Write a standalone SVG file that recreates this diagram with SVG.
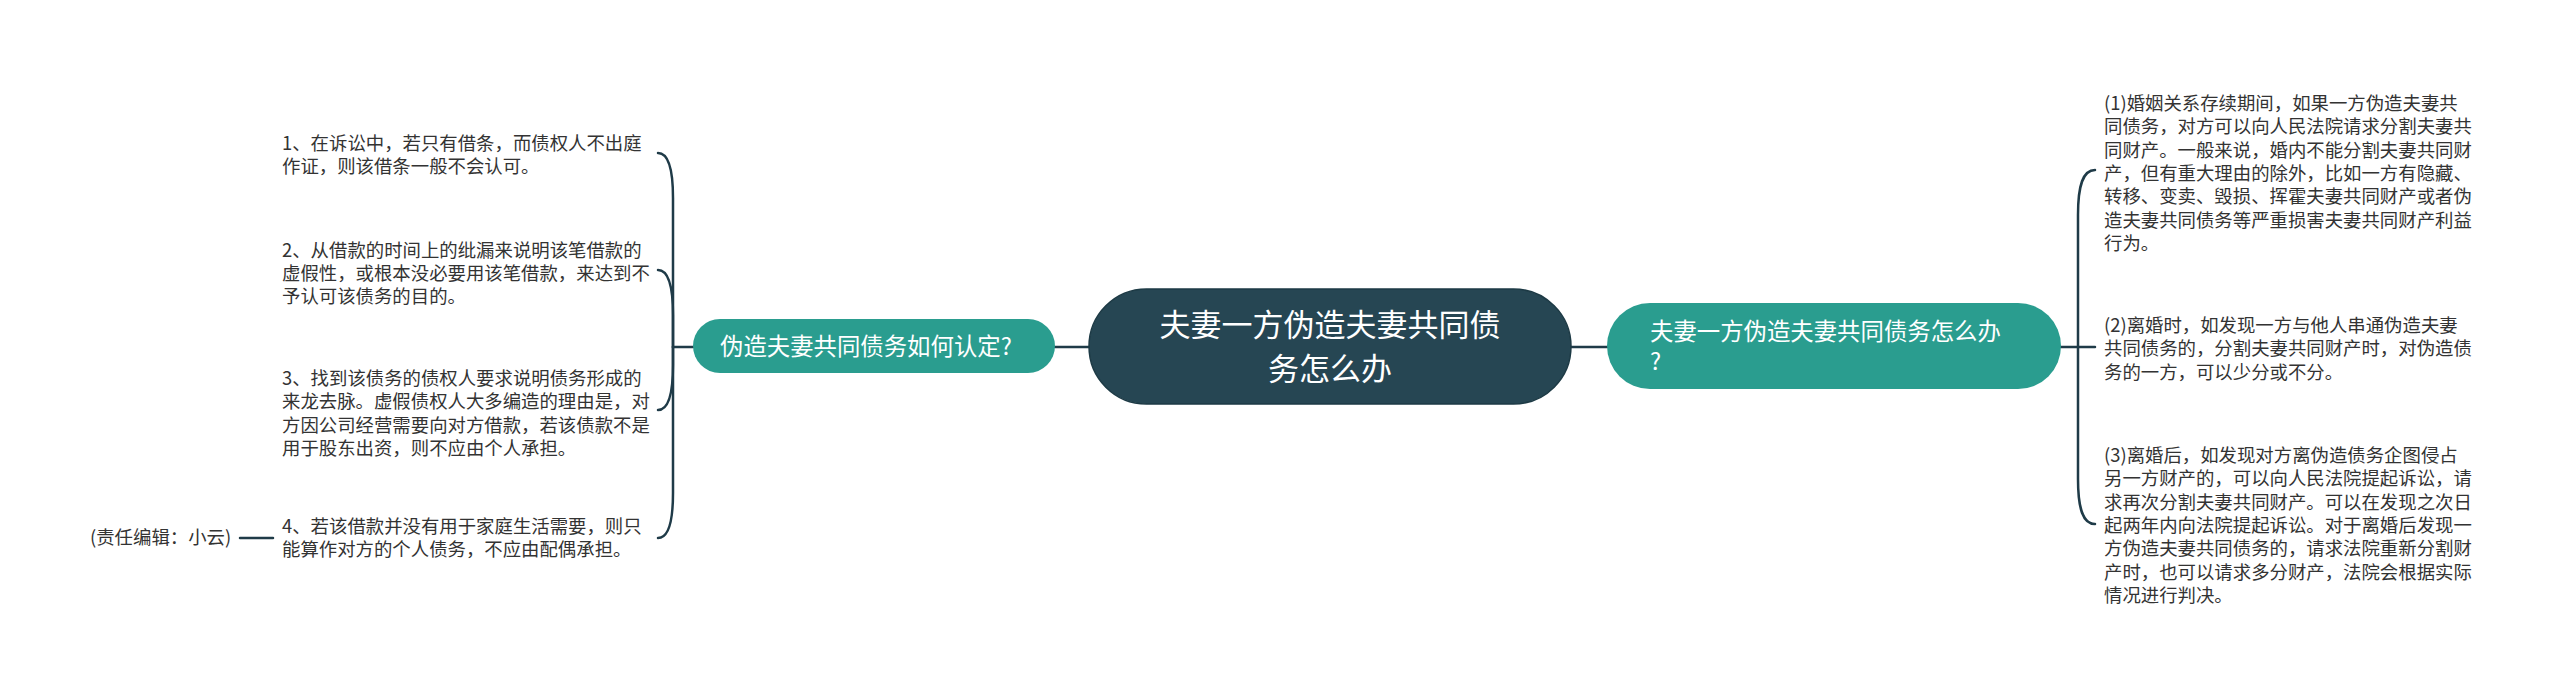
<svg xmlns="http://www.w3.org/2000/svg" width="2560" height="693" viewBox="0 0 2560 693">
<defs>
<style>
.conn{fill:none;stroke:#1f3b48;stroke-width:2.5;stroke-linecap:round}
.t{font-family:"Noto Sans CJK SC","Noto Sans",sans-serif;font-size:18.4px;fill:#333333}
.sub{fill:#2a9d8f}
.subt{font-family:"Noto Sans CJK SC","Noto Sans",sans-serif;font-size:23.4px;fill:#ffffff}
.root{fill:#264653;stroke:#1d3a45;stroke-width:1.5}
.roott{font-family:"Noto Sans CJK SC","Noto Sans",sans-serif;font-size:31px;fill:#ffffff;text-anchor:middle}
</style>
</defs>
<rect width="2560" height="693" fill="#ffffff"/>
<g id="connectors">
<path class="conn" d="M1089 347 L1055 347"/>
<path class="conn" d="M1571 347 L1607 347"/>
<path class="conn" d="M693 347 L673 347"/>
<path class="conn" d="M673 347 L673 198 C673 168 668 153 658 153"/>
<path class="conn" d="M673 347 L673 315 C673 285 668 270 658 270"/>
<path class="conn" d="M673 347 L673 365 C673 395 668 410 658 410"/>
<path class="conn" d="M673 347 L673 493 C673 523 668 538 658 538"/>
<path class="conn" d="M273 538 L240 538"/>
<path class="conn" d="M2061 347 L2095 347"/>
<path class="conn" d="M2078 347 L2078 215 C2078 185 2083 170 2095 170"/>
<path class="conn" d="M2078 347 L2078 479 C2078 509 2083 524 2095 524"/>
</g>
<g id="root">
<rect class="root" x="1089" y="289" width="482" height="115" rx="57.5"/>
<text class="roott" x="1330" y="336">夫妻一方伪造夫妻共同债</text>
<text class="roott" x="1330" y="380">务怎么办</text>
</g>
<g id="left-topic">
<rect class="sub" x="693" y="319" width="362" height="54" rx="27"/>
<text class="subt" x="720" y="355">伪造夫妻共同债务如何认定?</text>
</g>
<g id="right-topic">
<rect class="sub" x="1607" y="303" width="454" height="86" rx="43"/>
<text class="subt" x="1650" y="340">夫妻一方伪造夫妻共同债务怎么办</text>
<text class="subt" x="1650" y="370">?</text>
</g>
<g id="left-1">
<text class="t" x="282" y="150">1、在诉讼中，若只有借条，而债权人不出庭</text>
<text class="t" x="282" y="173">作证，则该借条一般不会认可。</text>
</g>
<g id="left-2">
<text class="t" x="282" y="257">2、从借款的时间上的纰漏来说明该笔借款的</text>
<text class="t" x="282" y="280">虚假性，或根本没必要用该笔借款，来达到不</text>
<text class="t" x="282" y="303">予认可该债务的目的。</text>
</g>
<g id="left-3">
<text class="t" x="282" y="385">3、找到该债务的债权人要求说明债务形成的</text>
<text class="t" x="282" y="408">来龙去脉。虚假债权人大多编造的理由是，对</text>
<text class="t" x="282" y="432">方因公司经营需要向对方借款，若该债款不是</text>
<text class="t" x="282" y="455">用于股东出资，则不应由个人承担。</text>
</g>
<g id="left-4">
<text class="t" x="282" y="533">4、若该借款并没有用于家庭生活需要，则只</text>
<text class="t" x="282" y="556">能算作对方的个人债务，不应由配偶承担。</text>
</g>
<g id="editor-note">
<text class="t" x="90" y="544">(责任编辑：小云)</text>
</g>
<g id="right-1">
<text class="t" x="2104" y="110">(1)婚姻关系存续期间，如果一方伪造夫妻共</text>
<text class="t" x="2104" y="133.3">同债务，对方可以向人民法院请求分割夫妻共</text>
<text class="t" x="2104" y="156.7">同财产。一般来说，婚内不能分割夫妻共同财</text>
<text class="t" x="2104" y="180">产，但有重大理由的除外，比如一方有隐藏、</text>
<text class="t" x="2104" y="203.3">转移、变卖、毁损、挥霍夫妻共同财产或者伪</text>
<text class="t" x="2104" y="226.7">造夫妻共同债务等严重损害夫妻共同财产利益</text>
<text class="t" x="2104" y="250">行为。</text>
</g>
<g id="right-2">
<text class="t" x="2104" y="332">(2)离婚时，如发现一方与他人串通伪造夫妻</text>
<text class="t" x="2104" y="355.3">共同债务的，分割夫妻共同财产时，对伪造债</text>
<text class="t" x="2104" y="378.7">务的一方，可以少分或不分。</text>
</g>
<g id="right-3">
<text class="t" x="2104" y="462">(3)离婚后，如发现对方离伪造债务企图侵占</text>
<text class="t" x="2104" y="485.3">另一方财产的，可以向人民法院提起诉讼，请</text>
<text class="t" x="2104" y="508.7">求再次分割夫妻共同财产。可以在发现之次日</text>
<text class="t" x="2104" y="532">起两年内向法院提起诉讼。对于离婚后发现一</text>
<text class="t" x="2104" y="555.3">方伪造夫妻共同债务的，请求法院重新分割财</text>
<text class="t" x="2104" y="578.7">产时，也可以请求多分财产，法院会根据实际</text>
<text class="t" x="2104" y="602">情况进行判决。</text>
</g>
</svg>
